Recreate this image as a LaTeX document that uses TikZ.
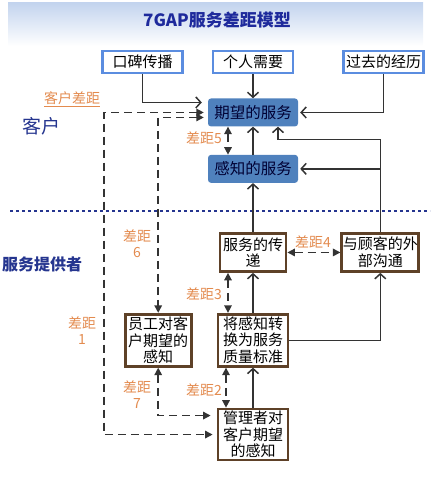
\documentclass[tikz,border=0pt]{standalone}
\usepackage{fontspec}
\setmainfont{Noto Sans CJK SC}
\usepackage{xcolor}
\usepackage{tikz}
\usetikzlibrary{arrows.meta,positioning}
\definecolor{titlenavy}{HTML}{1E2A9C}
\definecolor{regionnavy}{HTML}{25358F}
\definecolor{boxblue}{HTML}{5B8DE0}
\definecolor{svcblue}{HTML}{4F81BD}
\definecolor{provbrown}{HTML}{5E4128}
\definecolor{gaporange}{HTML}{E38B4F}
\definecolor{linegray}{HTML}{333333}
\definecolor{bannerblue}{HTML}{C3D4EE}
\tikzset{
    topbox/.style={rectangle, draw=boxblue, line width=2.5pt, fill=white,
        minimum width=80pt, minimum height=22pt, inner sep=0pt,
        font=\fontsize{15}{17}\selectfont},
    svcbox/.style={rectangle, rounded corners=3pt, fill=svcblue,
        minimum width=90pt, minimum height=28pt, inner sep=0pt,
        text=black!80!blue, font=\fontsize{15.5}{17}\selectfont},
    provbox/.style={rectangle, draw=provbrown, line width=2.8pt, fill=white,
        align=center, inner sep=0pt, font=\fontsize{15}{16.5}\selectfont},
    flow/.style={-{Straight Barb[length=5pt,width=11pt]}, line width=1.5pt, draw=linegray},
    gap/.style={{Triangle[length=7.5pt,width=7.5pt]}-{Triangle[length=7.5pt,width=7.5pt]},
        dash pattern=on 8pt off 5pt, line width=1.5pt, draw=linegray},
    gaplabel/.style={text=gaporange, align=center, inner sep=0pt,
        font=\fontsize{14}{16}\selectfont},
    region/.style={text=regionnavy, inner sep=0pt},
    divider/.style={draw=regionnavy, line width=2.5pt, dash pattern=on 2.5pt off 3.5pt}
}

\begin{document}
\begin{tikzpicture}[x=1pt,y=-1pt]
        \useasboundingbox (0,0) rectangle (438,503);
        \shade[top color=bannerblue, bottom color=white] (8,3) rectangle (423,46);
        \node[text=titlenavy,font=\bfseries\fontsize{17}{19}\selectfont] (title) at (217,20) {7GAP服务差距模型};
        \draw[divider] (10,211) -- (430,211);
        \node[region,font=\fontsize{19}{20}\selectfont] (customer) at (42,126) {客户};
        \node[region,font=\bfseries\fontsize{16}{18}\selectfont] (provider) at (42,264) {服务提供者};
        \node[topbox] (need) at (253,62) {个人需要};
        \node[topbox,left=28pt of need] (mouth) {口碑传播};
        \node[topbox,right=48pt of need] (past) {过去的经历};
        \node[svcbox,below=24pt of need] (expect) {期望的服务};
        \node[svcbox,below=28pt of expect] (perceive) {感知的服务};
        \node[provbox,minimum width=66pt,minimum height=38pt,below=49pt of perceive] (deliver) {服务的传\\递};
        \node[provbox,minimum width=77pt,minimum height=38pt,right=53pt of deliver] (extcomm) {与顾客的外\\部沟通};
        \node[provbox,minimum width=70pt,minimum height=52pt,below=40pt of deliver] (standard) {将感知转\\换为服务\\质量标准};
        \node[provbox,minimum width=66pt,minimum height=52pt,left=24pt of standard] (staff) {员工对客\\户期望的\\感知};
        \node[provbox,minimum width=70pt,minimum height=51pt,below=40pt of standard] (manager) {管理者对\\客户期望\\的感知};
        \coordinate (bend) at ([xshift=25pt,yshift=-13pt]expect.south);
        \coordinate (tap) at (extcomm.north |- perceive.east);
        \draw[flow,shorten >=6pt] (mouth.south) |- ([yshift=10pt]expect.west);
        \draw[flow] (need) -- (expect);
        \draw[flow,shorten >=2pt] (past.south) |- (expect.east);
        \draw[flow] (perceive) -- (expect);
        \draw[flow] (extcomm.north) |- (bend) -- (bend |- expect.south);
        \draw[flow,shorten >=2pt] (tap) -- (perceive.east);
        \draw[flow] (deliver) -- (perceive);
        \draw[flow] (standard.north) -- (standard.north |- deliver.south);
        \draw[flow] (standard.east) -| (extcomm.south);
        \draw[flow] (manager) -- (standard);
        \draw[gap] ([xshift=-25pt]expect.south) -- ([xshift=-25pt]perceive.north);
        \draw[gap] ([xshift=-25pt]deliver.south) -- ([xshift=-25pt]deliver.south |- standard.north);
        \draw[gap] ([xshift=-27pt]standard.south) -- ([xshift=-27pt]standard.south |- manager.north);
        \draw[gap] (deliver.east) -- (extcomm.west);
        \draw[gap,shorten <=4pt] ([yshift=-5pt]expect.west) -| (staff.north);
        \draw[gap,shorten <=4pt,shorten >=4pt] (expect.west) -- ++(-104,0) |- (manager.west);
        \draw[gap,shorten >=6pt] (staff.south) |- ([yshift=19pt]manager.west);
        \node[gaplabel] (custgap) at (72,99) {\underline{客户差距}};
        \node[gaplabel] (gapfive) at (204,138) {差距5};
        \node[gaplabel] (gapfour) at (313,242) {差距4};
        \node[gaplabel] (gapthree) at (204,294) {差距3};
        \node[gaplabel] (gaptwo) at (204,390) {差距2};
        \node[gaplabel] (gapsix) at (137,244) {差距\\6};
        \node[gaplabel] (gapone) at (82,331) {差距\\1};
        \node[gaplabel] (gapseven) at (137,395) {差距\\7};
    \end{tikzpicture}
\end{document}
